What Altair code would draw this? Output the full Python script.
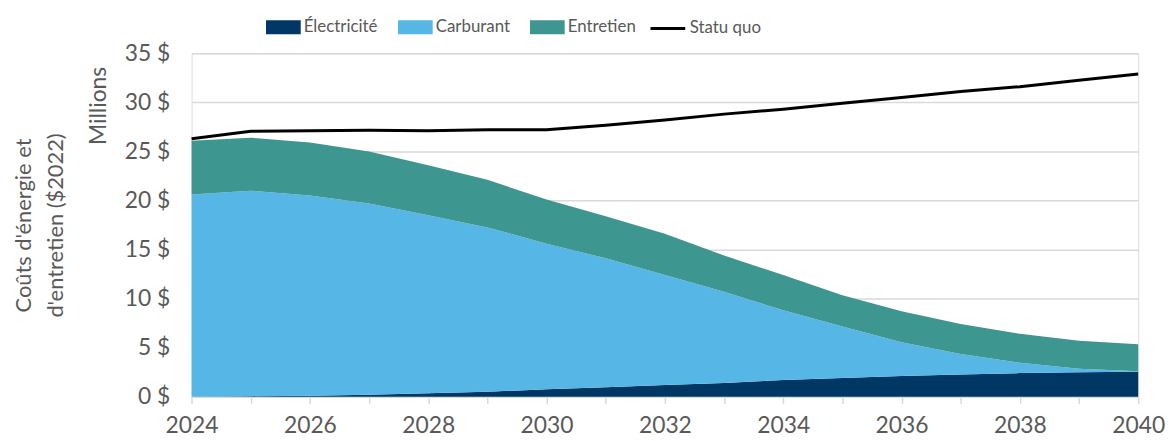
import altair as alt
import pandas as pd

years = list(range(2024, 2041))
electricite = [0.0, 0.05, 0.1, 0.2, 0.35, 0.5, 0.75, 0.95, 1.2, 1.4, 1.7, 1.9, 2.1, 2.25, 2.4, 2.5, 2.55]
carburant = [20.6, 20.95, 20.4, 19.5, 18.15, 16.75, 14.85, 13.15, 11.2, 9.3, 7.1, 5.25, 3.45, 2.1, 1.05, 0.35, 0.05]
entretien = [5.5, 5.4, 5.4, 5.3, 5.1, 4.85, 4.5, 4.3, 4.2, 3.7, 3.6, 3.2, 3.15, 3.05, 2.95, 2.85, 2.75]
statu_quo = [26.3, 27.05, 27.1, 27.15, 27.1, 27.2, 27.2, 27.67, 28.2, 28.8, 29.3, 29.9, 30.5, 31.1, 31.6, 32.25, 32.9]

series_names = ["Électricité", "Carburant", "Entretien"]
series_colors = ["#003764", "#56B7E6", "#3E9690"]
y_ticks = [0, 5, 10, 15, 20, 25, 30, 35]

rows = []
for name, vals, k in zip(series_names, [electricite, carburant, entretien], range(3)):
    for yr, v in zip(years, vals):
        rows.append({"annee": yr, "serie": name, "valeur": v, "ord": k})
df_area = pd.DataFrame(rows)
df_line = pd.DataFrame({"annee": years, "valeur": statu_quo, "nom": ["Statu quo"] * len(years)})
df_note = pd.DataFrame({"t": ["Millions"]})

FONT = "Lato"
GREY = "#595959"
GRID = "#d9d9d9"

x_enc = alt.X(
    "annee:Q",
    scale=alt.Scale(domain=[2024, 2040], nice=False, zero=False),
    axis=alt.Axis(
        values=years, format="d",
        labelExpr="datum.value % 2 == 0 ? datum.label : ''",
        title=None, grid=False, tickSize=7, tickColor=GRID, tickWidth=1.5,
        domainColor=GRID, domainWidth=1.5, labelFontSize=23, labelColor=GREY,
        labelPadding=11, labelFont=FONT, labelFlush=False,
    ),
)
y_axis = alt.Axis(
    values=y_ticks, labelExpr="datum.value + ' $'",
    title=["Coûts d'énergie et", "d'entretien ($2022)"],
    titleFontSize=22, titleFontWeight="normal", titleColor=GREY, titleFont=FONT,
    titleLineHeight=32, titlePadding=57,
    grid=True, gridColor=GRID, gridWidth=1.5, domain=False, ticks=False,
    labelFontSize=23, labelColor=GREY, labelPadding=22, labelFont=FONT,
)
y_scale = alt.Scale(domain=[0, 35], nice=False)

area = alt.Chart(df_area).mark_area(interpolate="linear").encode(
    x=x_enc,
    y=alt.Y("valeur:Q", stack="zero", scale=y_scale, axis=y_axis),
    color=alt.Color(
        "serie:N",
        scale=alt.Scale(domain=series_names, range=series_colors),
        legend=alt.Legend(
            title=None, orient="none", legendX=75, legendY=-44, direction="horizontal",
            symbolType="M-1,-0.4H1V0.4H-1Z", symbolSize=1225, symbolStrokeWidth=0,
            labelFontSize=17, labelColor=GREY, labelFont=FONT, labelOffset=3,
            columnPadding=20,
        ),
    ),
    order=alt.Order("ord:Q"),
)

line = alt.Chart(df_line).mark_line(strokeWidth=3).encode(
    x=x_enc,
    y=alt.Y("valeur:Q", scale=y_scale, axis=y_axis),
    stroke=alt.Stroke(
        "nom:N",
        scale=alt.Scale(domain=["Statu quo"], range=["black"]),
        legend=alt.Legend(
            title=None, orient="none", legendX=461, legendY=-44,
            symbolType="stroke", symbolSize=1225, symbolStrokeWidth=3,
            labelFontSize=17, labelColor=GREY, labelFont=FONT, labelOffset=3,
        ),
    ),
)

note = alt.Chart(df_note).mark_text(
    angle=270, fontSize=23, color=GREY, font=FONT, align="center", baseline="middle"
).encode(x=alt.value(-93), y=alt.value(53), text="t:N")

chart = alt.layer(area, line, note).properties(
    width=954, height=346,
    padding={"left": 5, "top": 0, "right": 0, "bottom": 0},
).configure_view(stroke=None).configure(font=FONT)

chart.save("out.html", embed_options={"renderer": "svg", "actions": False})
